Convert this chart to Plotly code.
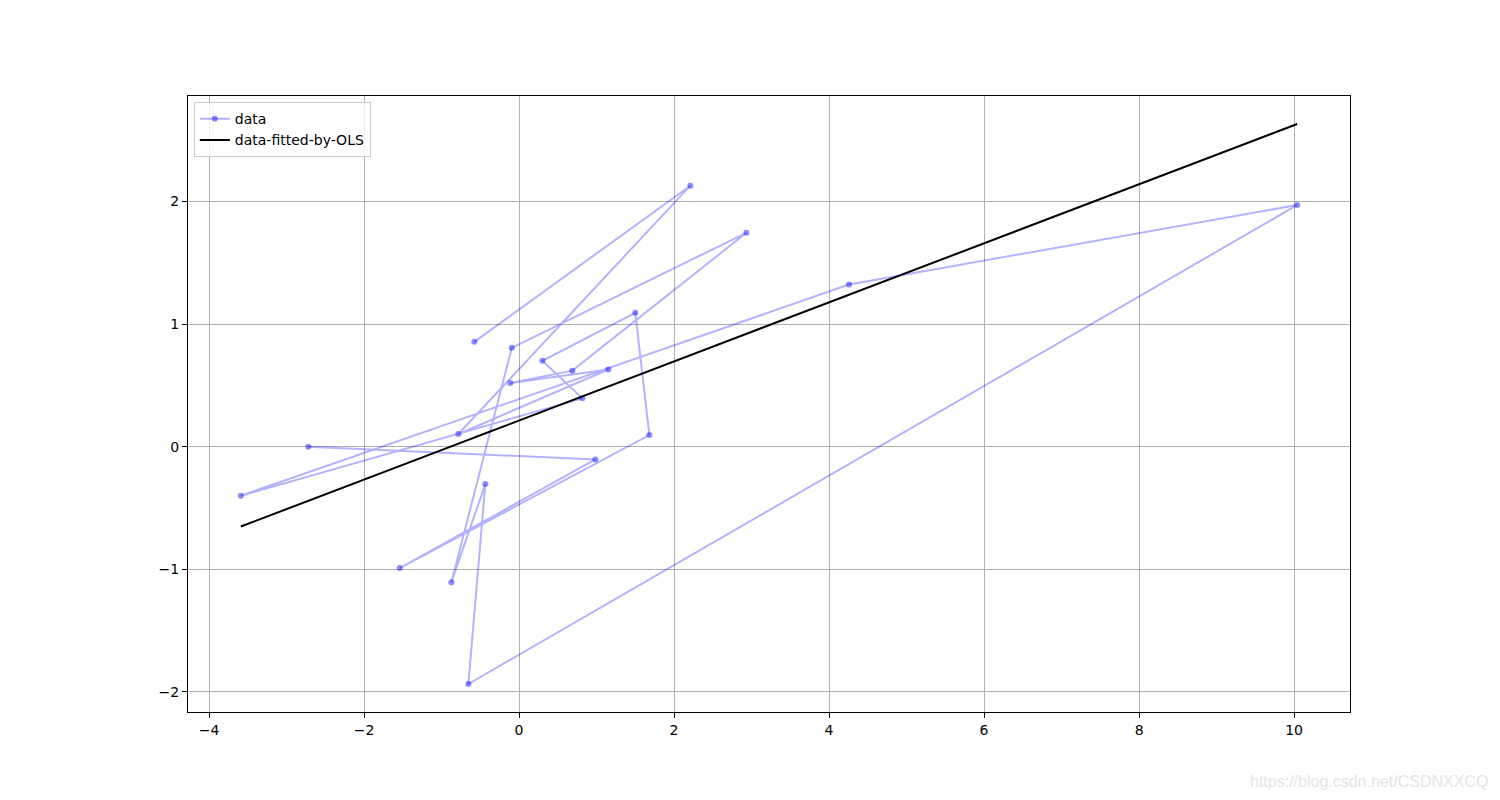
import numpy as np
import plotly.graph_objects as go

# data points in plotting order
x_data = [-0.577, 2.21, -0.783, 1.152, -0.112, 0.688, 2.933, -0.094, -0.873, -0.435,
          -0.654, 10.04, 4.258, -3.59, 0.817, 0.301, 1.50, 1.681, -1.54, 0.985, -2.719]
y_data = [0.855, 2.128, 0.103, 0.629, 0.52, 0.62, 1.744, 0.806, -1.105, -0.305,
          -1.935, 1.97, 1.322, -0.40, 0.394, 0.70, 1.091, 0.095, -0.99, -0.104, 0.0]

x = np.array(x_data)
y = np.array(y_data)
slope, intercept = np.polyfit(x, y, 1)
y_fit = intercept + slope * x

def padded(lo, hi, frac=0.05):
    d = (hi - lo) * frac
    return [lo - d, hi + d]

xr = padded(x.min(), x.max())
yr = padded(min(y.min(), y_fit.min()), max(y.max(), y_fit.max()))

fig = go.Figure()
fig.add_trace(go.Scatter(
    x=x_data, y=y_data, mode="lines+markers", name="data",
    line=dict(color="rgba(0,0,255,0.3)", width=2),
    marker=dict(color="rgba(0,0,255,0.45)", size=6),
))
fig.add_trace(go.Scatter(
    x=x_data, y=list(y_fit), mode="lines", name="data-fitted-by-OLS",
    line=dict(color="black", width=2),
))

axis_common = dict(
    showgrid=True, gridcolor="#b0b0b0", gridwidth=1,
    showline=True, linecolor="black", linewidth=1, mirror=True,
    ticks="outside", ticklen=5, tickwidth=1, tickcolor="black",
    zeroline=False,
    tickfont=dict(family="DejaVu Sans", size=14, color="black"),
)

fig.update_layout(
    width=1492, height=792,
    margin=dict(l=180, r=150, t=88, b=88),
    paper_bgcolor="white", plot_bgcolor="white",
    font=dict(family="DejaVu Sans", size=14, color="black"),
    xaxis=dict(range=xr, dtick=2, tick0=0, **axis_common),
    yaxis=dict(range=yr, dtick=1, tick0=0, **axis_common),
    legend=dict(
        x=0.005, y=0.99, xanchor="left", yanchor="top",
        bgcolor="rgba(255,255,255,0.8)", bordercolor="#cccccc", borderwidth=1,
        font=dict(family="DejaVu Sans", size=14, color="black"),
        tracegroupgap=2, itemwidth=30,
    ),
    showlegend=True,
    annotations=[dict(
        text="https://blog.csdn.net/CSDNXXCQ", xref="paper", yref="paper",
        x=(1482 - 180) / 1162, y=(704 - 774) / 616, xanchor="right", yanchor="middle",
        showarrow=False,
        font=dict(family="Liberation Sans", size=16, color="#e4e4e4"),
    )],
)

fig.write_html("out.html")
